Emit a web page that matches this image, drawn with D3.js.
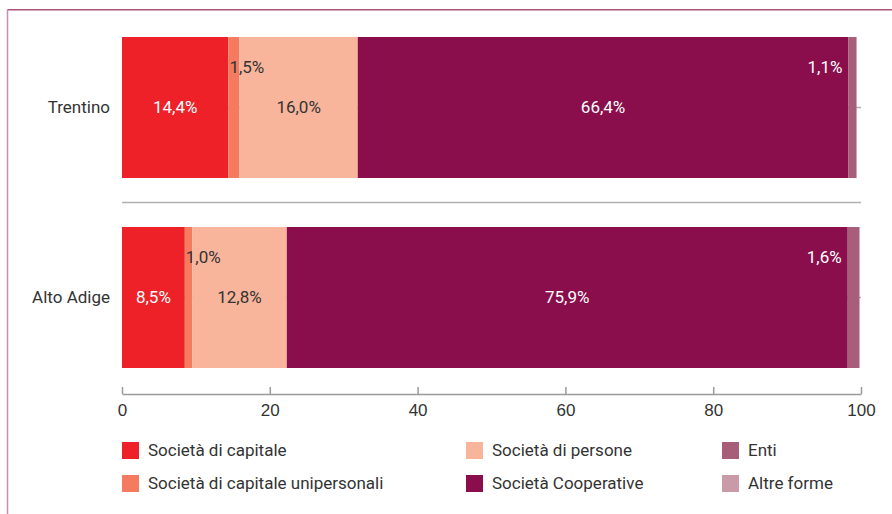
<!DOCTYPE html>
<html>
<head>
<meta charset="utf-8">
<script src="https://cdn.jsdelivr.net/npm/d3@7"></script>
<style>
    body { margin: 0; background: #fff; }
    svg { display: block; font-family: Roboto, "Noto Sans", sans-serif; }
    .axis path, .axis line { stroke: #9a9a9a; stroke-width: 1.5; }
    .axis text { fill: #333; font-size: 17px; }
</style>
</head>
<body>
<svg id="chart" width="892" height="514"></svg>
<script>

// categories (bars) and legal forms (stack series)
var regions = ["Trentino", "Alto Adige"];
var forms = ["Società di capitale", "Società di capitale unipersonali", "Società di persone",
    "Società Cooperative", "Enti", "Altre forme"];

// percentage values, one array per region, in the order of "forms"
var trentinoValues = [14.4, 1.5, 16.0, 66.4, 1.1, 0];
var altoAdigeValues = [8.5, 1.0, 12.8, 75.9, 1.6, 0];

var xTicks = [0, 20, 40, 60, 80, 100];

// legend order (three columns, two rows)
var legendOrder = ["Società di capitale", "Società di capitale unipersonali", "Società di persone",
    "Società Cooperative", "Enti", "Altre forme"];

var formColors = ["#ee2128", "#f47b5f", "#f8b59c", "#8a0e4b", "#a75f79", "#c99ba8"];
var labelColors = ["#fff", "#333", "#333", "#fff", "#fff", "#333"];


StackedBarChart = function(_parentElement) {
    this.parentElement = _parentElement;
    this.width = 892;
    this.height = 514;
    this.initVis();
}

StackedBarChart.prototype.initVis = function() {
    var vis = this;

    vis.svg = d3.select("#" + vis.parentElement);

    vis.colorScale = d3.scaleOrdinal().domain(forms).range(formColors);
    vis.labelColor = d3.scaleOrdinal().domain(forms).range(labelColors);

    vis.itFormat = d3.formatLocale({ decimal: ",", thousands: ".", grouping: [3], currency: ["€", ""] }).format(".1f");

    vis.xScale = d3.scaleLinear()
        .domain([0, 100])
        .range([122, 861]);

    vis.yScale = d3.scaleBand()
        .domain(regions)
        .range([12.5, 392.5])
        .paddingInner(0.258)
        .paddingOuter(0.129);

    vis.wrangleData();
}

StackedBarChart.prototype.wrangleData = function() {
    var vis = this;

    var valuesByRegion = { "Trentino": trentinoValues, "Alto Adige": altoAdigeValues };
    var table = regions.map(function(r) {
        var row = { region: r };
        forms.forEach(function(f, i) { row[f] = valuesByRegion[r][i]; });
        return row;
    });

    vis.series = d3.stack().keys(forms)(table);
    vis.updateVis();
}

StackedBarChart.prototype.updateVis = function() {
    var vis = this;
    var svg = vis.svg;

    svg.selectAll("*").remove();

    // outer frame (top and left rule)
    svg.append("line")
        .attr("x1", 7).attr("x2", vis.width)
        .attr("y1", 9.75).attr("y2", 9.75)
        .attr("stroke", "#a6527d").attr("stroke-width", 1.5);
    svg.append("line")
        .attr("x1", 7.5).attr("x2", 7.5)
        .attr("y1", 9).attr("y2", vis.height)
        .attr("stroke", "#cc8db1").attr("stroke-width", 1.5);

    var x0 = vis.xScale.range()[0], x1 = vis.xScale.range()[1];

    // lines at the middle of each band (behind the bars)
    svg.append("g")
        .selectAll("line")
        .data(regions)
        .enter()
        .append("line")
        .attr("x1", x0).attr("x2", x1)
        .attr("y1", d => vis.yScale(d) + vis.yScale.bandwidth() / 2)
        .attr("y2", d => vis.yScale(d) + vis.yScale.bandwidth() / 2)
        .attr("stroke", "#b0b0b0").attr("stroke-width", 1.5);

    // separator between the two bars
    var sepY = (vis.yScale(regions[0]) + vis.yScale.bandwidth() + vis.yScale(regions[1])) / 2;
    svg.append("line")
        .attr("x1", x0).attr("x2", x1)
        .attr("y1", sepY).attr("y2", sepY)
        .attr("stroke", "#b0b0b0").attr("stroke-width", 1.5);

    // stacked bars
    var groups = svg.append("g")
        .selectAll("g")
        .data(vis.series)
        .enter()
        .append("g")
        .attr("fill", d => vis.colorScale(d.key));

    groups.selectAll("rect")
        .data(d => d)
        .enter()
        .append("rect")
        .attr("x", d => vis.xScale(d[0]))
        .attr("y", d => vis.yScale(d.data.region))
        .attr("width", d => vis.xScale(d[1]) - vis.xScale(d[0]))
        .attr("height", vis.yScale.bandwidth());

    // value labels
    var labels = [];
    vis.series.forEach(function(s) {
        s.forEach(function(d) {
            var v = d[1] - d[0];
            if (v <= 0) return;
            labels.push({ key: s.key, value: v, start: d[0], end: d[1], region: d.data.region });
        });
    });

    var midChart = (x0 + x1) / 2;
    svg.append("g")
        .selectAll("text")
        .data(labels)
        .enter()
        .append("text")
        .attr("font-size", 17)
        .attr("dy", "0.35em")
        .attr("fill", function(d) {
            // small labels on the right sit on the dark cooperative bar
            if (d.value < 3 && vis.xScale(d.start) > midChart) return "#fff";
            return vis.labelColor(d.key);
        })
        .attr("text-anchor", function(d) {
            if (d.value >= 3) return "middle";
            return vis.xScale(d.start) < midChart ? "start" : "end";
        })
        .attr("x", function(d) {
            if (d.value >= 3) return (vis.xScale(d.start) + vis.xScale(d.end)) / 2;
            return vis.xScale(d.start) < midChart ? vis.xScale(d.start) + 1 : vis.xScale(d.start) - 6;
        })
        .attr("y", function(d) {
            var c = vis.yScale(d.region) + vis.yScale.bandwidth() / 2;
            return d.value >= 3 ? c : c - 40;
        })
        .text(d => vis.itFormat(d.value) + "%");

    // region names
    svg.append("g")
        .selectAll("text")
        .data(regions)
        .enter()
        .append("text")
        .attr("x", 110)
        .attr("y", d => vis.yScale(d) + vis.yScale.bandwidth() / 2)
        .attr("dy", "0.35em")
        .attr("text-anchor", "end")
        .attr("font-size", 17)
        .attr("fill", "#333")
        .text(d => d);

    // x axis, ticks pointing up
    var xAxis = d3.axisBottom(vis.xScale)
        .tickValues(xTicks)
        .tickSizeInner(-7)
        .tickSizeOuter(0)
        .tickPadding(10);

    svg.append("g")
        .attr("class", "axis x-axis")
        .attr("transform", "translate(0,394)")
        .call(xAxis)
        .call(g => g.selectAll("text").attr("font-family", null).attr("font-size", null));

    // legend
    var legendX = [122, 466, 722];
    var legendY = [442, 475];
    var legend = svg.append("g")
        .selectAll("g")
        .data(legendOrder)
        .enter()
        .append("g")
        .attr("transform", function(d, i) {
            return "translate(" + legendX[Math.floor(i / 2)] + "," + legendY[i % 2] + ")";
        });

    legend.append("rect")
        .attr("width", 17)
        .attr("height", 17)
        .attr("fill", d => vis.colorScale(d));

    legend.append("text")
        .attr("x", 26)
        .attr("y", 8.5)
        .attr("dy", "0.35em")
        .attr("font-size", 17)
        .attr("fill", "#333")
        .text(d => d);
}

var chart = new StackedBarChart("chart");
</script>
</body>
</html>
